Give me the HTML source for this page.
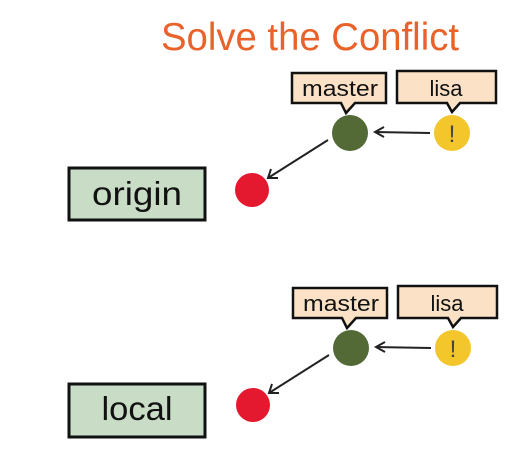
<!DOCTYPE html>
<html><head><meta charset="utf-8"><style>html,body{margin:0;padding:0;background:#fff;}svg{display:block}</style></head>
<body>
<svg width="508" height="451" viewBox="0 0 508 451" xmlns="http://www.w3.org/2000/svg" font-family="'Liberation Sans', sans-serif">
<text x="161" y="50" font-size="39" fill="#e8622a" textLength="298" lengthAdjust="spacingAndGlyphs">Solve the Conflict</text>

<g>
<rect x="69" y="168" width="136" height="52" fill="#c8dcc6" stroke="#111" stroke-width="3"/>
<text x="137" y="205" font-size="33" text-anchor="middle" fill="#111" textLength="90" lengthAdjust="spacingAndGlyphs">origin</text>
</g>
<g>
<rect x="69" y="384" width="136" height="53" fill="#c8dcc6" stroke="#111" stroke-width="3"/>
<text x="137" y="420" font-size="33" text-anchor="middle" fill="#111" textLength="71" lengthAdjust="spacingAndGlyphs">local</text>
</g>

<g id="tags">
<path d="M292 73 H386 V103 H355 L346 113 L341 103 H292 Z" fill="#fbe2c6" stroke="#111" stroke-width="2.5"/>
<text x="340" y="96" font-size="22" text-anchor="middle" fill="#111" textLength="76" lengthAdjust="spacingAndGlyphs">master</text>
<path d="M397 71 H496 V103 H460 L452 112 L447 103 H397 Z" fill="#fbe2c6" stroke="#111" stroke-width="2.5"/>
<text x="446" y="96" font-size="22" text-anchor="middle" fill="#111">lisa</text>
<circle cx="350" cy="133" r="18" fill="#536a36"/>
<circle cx="452" cy="133" r="18" fill="#f3c62b"/>
<text x="452" y="142" font-size="24" text-anchor="middle" fill="#444">!</text>
<line x1="430" y1="133" x2="375" y2="132" stroke="#222" stroke-width="2"/>
<path d="M384 127 L375 132 L384 137" fill="none" stroke="#222" stroke-width="2"/>
<line x1="328" y1="140" x2="268" y2="178" stroke="#222" stroke-width="2"/>
<path d="M271 169 L268 178 L278 178" fill="none" stroke="#222" stroke-width="2"/>
<circle cx="252" cy="190" r="17" fill="#e4182f"/>
</g>
<use href="#tags" transform="translate(1,215)"/>
</svg>
</body></html>
